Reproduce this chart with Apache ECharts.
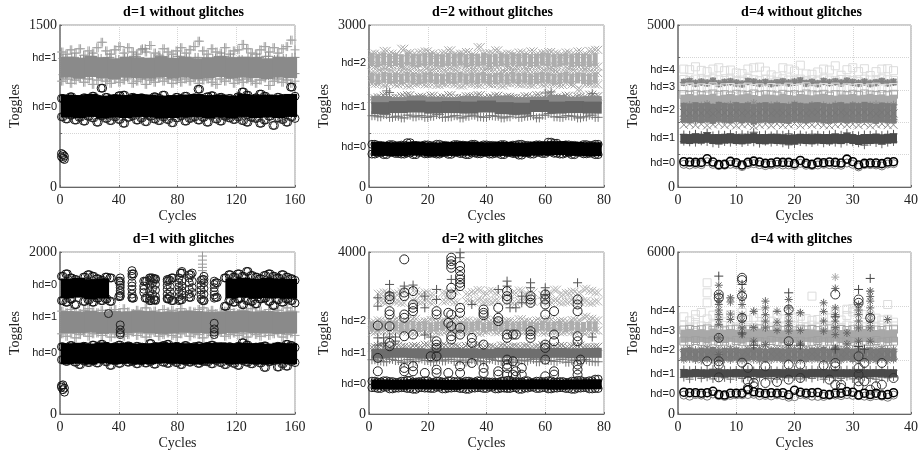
<!DOCTYPE html>
<html><head><meta charset="utf-8">
<script src="https://cdn.jsdelivr.net/npm/echarts@6/dist/echarts.min.js"></script>
<style>html,body{margin:0;background:#fff}#c{width:921px;height:456px}</style></head>
<body><div id="c"></div><script>
const titles=['d=1 without glitches','d=2 without glitches','d=4 without glitches','d=1 with glitches','d=2 with glitches','d=4 with glitches'];
const xMax=[160,80,40,160,80,40], xStep=[40,20,10,40,20,10];
const yMax=[1500,3000,5000,2000,4000,6000], yStep=[500,1000,1000,1000,2000,2000];
const yTicks=[[0,740,1195,1500],[0,740,1480,2296,3000],[0,740,1512,2376,3086,3610,5000],[0,755,1200,1596,2000],[0,742,1509,2300,4000],[0,753,1495,2386,3066,3808,6000]];
const yTexts=[['0','hd=0','hd=1','1500'],['0','hd=0','hd=1','hd=2','3000'],['0','hd=0','hd=1','hd=2','hd=3','hd=4','5000'],['0','hd=0','hd=1','hd=0','2000'],['0','hd=0','hd=1','hd=2','4000'],['0','hd=0','hd=1','hd=2','hd=3','hd=4','6000']];

// d=1 without glitches: every third cycle
const a0hi=[820,800,835,810,790,825,805,840,815,915,830,795,820,845,850,810,830,800,825,815,795,835,820,850,805,790,830,815,840,805,825,905,795,835,845,810,830,800,820,790,835,880,850,805,825,860,840,810,795,830,820,805,925,840];
const a0lo=[650,630,665,620,645,610,655,640,600,660,635,615,650,625,590,645,660,620,640,605,655,630,615,650,625,595,640,660,610,635,650,620,645,600,665,630,610,655,640,625,650,615,600,645,635,590,620,655,570,640,625,600,650,635];
const a0core=[750,745,755,740,750,745,755,750,740,745,750,755,745,750,740,755,745,750,745,755];
const a1hi=[1250,1230,1270,1240,1280,1220,1260,1240,1290,1340,1260,1230,1270,1300,1240,1290,1250,1230,1270,1250,1310,1240,1220,1280,1250,1230,1260,1290,1240,1270,1300,1350,1260,1230,1280,1250,1240,1290,1230,1260,1270,1320,1280,1240,1230,1270,1300,1250,1290,1240,1280,1300,1360,1270];
const a1lo=[980,1000,960,990,1010,970,1000,950,990,1010,980,960,1000,970,990,1010,960,980,1000,950,990,970,1010,980,1000,960,990,970,1000,980,1010,960,990,1000,970,950,1000,980,1010,960,990,970,1000,980,960,990,1010,940,980,1000,970,990,960,980];
const a1up=[1190,1200,1180,1210,1190,1200,1180,1190,1210,1280,1190,1200,1180,1210,1190,1200,1180,1190,1210,1200,1180,1190,1200,1210,1180,1190,1200];
const a1dn=[1040,1030,1050,1030,1040,1020,1050,1030,1040,1030,1020,1050,1040,1030,1050,1020,1040,1030,1050,1040,1030,1020,1050,1030,1040,1030,1050];
const a1core=[1110,1100,1115,1105,1095,1110,1105,1100,1115,1100,1110,1095,1105,1115,1100,1110,1105,1095,1110,1105];
const aLow=[[1,310],[1,280],[2,300],[2,265],[3,285],[3,255]];

// d=1 with glitches
const d0hi=[830,810,845,820,800,835,815,850,825,860,835,805,830,850,820,840,810,835,825,800,870,830,815,845,860,810,835,820,845,805,830,840,800,835,850,815,825,805,830,800,835,880,850,815,825,830,840,810,800,835,825,860,845,820];
const d0lo=[670,650,680,640,610,655,635,660,630,675,645,600,655,625,670,640,650,620,660,630,650,615,670,640,625,660,635,610,655,640,670,625,650,645,620,660,635,610,650,625,600,660,640,620,655,630,575,645,660,580,620,590,650,635];
const d0core=[745,750,740,755,745,750,740,745,755,750,745,740,750,755,745,750,745,740,750,745];
const d1hi=[1270,1250,1290,1260,1240,1280,1300,1260,1250,1280,1240,1270,1290,1250,1300,1260,1240,1280,1260,1310,1250,1270,1240,1290,1260,1280,1250,1300,1240,1270,1260,1290,1310,1250,1280,1240,1260,1270,1290,1250,1240,1280,1260,1300,1250,1270,1240,1290,1260,1280,1250,1310,1270,1260];
const d1lo=[990,960,1000,940,980,1010,960,990,1000,970,1010,950,990,1000,960,980,1010,970,1000,950,990,1010,960,980,1000,970,950,990,1010,960,990,980,940,1000,970,990,1010,960,980,1000,970,990,950,1010,980,960,1000,970,990,1010,950,980,1000,970];
const d1core=[1135,1130,1140,1125,1135,1130,1140,1135,1125,1130,1140,1135,1130,1125,1135,1140,1130,1135,1125,1130];
const d2hi=[1700,1730,1680,1660,null,1690,1720,1700,1670,1650,1690,1680,null,1640,null,null,1730,null,null,1640,1680,1670,null,null,1660,1680,null,1740,null,1720,null,null,1660,null,null,1620,null,1680,1720,1690,1730,1700,1760,1710,1690,1670,1710,1730,1700,1680,1720,1690,1670,1650];
const d2lo=[1400,1380,1420,1350,null,1390,1410,1380,1430,1400,1420,1390,null,1450,null,null,1430,null,null,1430,1400,1410,null,null,1420,1400,null,1410,null,1440,null,null,1400,null,null,1440,null,1330,1400,1380,1420,1350,1400,1390,1360,1420,1430,1390,1340,1410,1380,1420,1400,1370];
const d2core=[1550,1560,1540,1550,null,null,null,null,null,null,null,null,null,null,1550,1560,1545,1555,1550,1545];
const dSparse=[[41,[1680,1620,1590,1560,1520,1490,1460,1100,1040,1000,980]],[49,[1770,1700,1620,1580,1540,1480,1440]],[57,[1640,1580,1540,1500]],[61,[1650,1590,1520,1460,1420]],[63,[1680,1620,1550,1480]],[65,[1660,1600,1530,1450,1400]],[73,[1640,1590,1540,1480,1430]],[75,[1650,1570,1510,1450]],[81,[1680,1620,1570,1510,1450,1400]],[83,[1760,1640,1580,1520,1470]],[88,[1680,1620,1540,1480]],[90,[1740,1640,1560,1500]],[96,[1650,1590,1530,1470,1420]],[98,[1700,1620,1550,1480,1400]],[105,[1640,1600,1560,1510,1470,1430,1120,1050,1010,980]],[33,[1240]]];
const dLow=[[1,350],[1,330],[2,360],[2,300],[3,320],[3,270]];
const dPlus=[[97,1950],[97,1900],[97,1850],[97,1810],[97,1770]];

// d=2 without glitches: every second cycle
const b0hi=[790,770,760,785,765,775,820,770,760,780,765,790,770,760,785,775,765,790,760,780,770,765,785,760,775,790,770,760,780,770,830,810,765,780,770,760,785,770,790];
const b0lo=[610,630,600,640,620,610,630,600,640,615,625,610,635,605,640,620,600,630,615,640,610,625,600,635,620,590,630,610,640,620,650,625,610,630,600,640,615,625,600];
const b0core=[705,700,710,695,705,710,700,705,695,710,720,705,700];
const b1hi=[1640,1660,1690,1640,1650,1680,1700,1640,1670,1650,1690,1640,1660,1700,1650,1640,1680,1670,1700,1640,1660,1690,1640,1670,1650,1640,1680,1650,1700,1640,1730,1660,1650,1690,1640,1670,1650,1710,1680];
const b1lo=[1320,1300,1340,1290,1310,1280,1330,1300,1320,1290,1310,1340,1290,1300,1320,1280,1310,1330,1300,1290,1320,1310,1280,1300,1340,1290,1310,1320,1280,1330,1360,1300,1290,1320,1310,1280,1300,1330,1290];
const b1core=[1460,1480,1490,1470,1480,1470,1490,1460,1450,1500,1470,1480,1470];
const b1up=[1610,1590,1620,1600,1590,1610,1600,1620,1590,1600,1630,1600,1610];
const b1plus=[[6,1780],[7,1750],[60,1740],[62,1760],[76,1730]];
const b2aHi=[2470,2450,2520,2470,2440,2560,2480,2450,2490,2510,2470,2440,2480,2530,2450,2470,2500,2440,2590,2460,2480,2530,2450,2470,2440,2490,2460,2510,2450,2480,2500,2470,2440,2490,2460,2510,2450,2520,2540];
const b2aMid=[2360,2340,2370,2350,2360,2340,2370,2350,2340,2360,2370,2350,2340,2360,2350,2370,2340,2360,2350,2370,2340,2350,2360,2340,2370,2350,2360,2340,2350,2370,2360,2340,2350,2370,2340,2360,2350,2340,2360];
const b2aLo=[2240,2260,2220,2250,2270,2230,2250,2240,2270,2220,2250,2240,2260,2230,2250,2270,2240,2220,2260,2240,2230,2250,2270,2220,2240,2260,2230,2250,2240,2260,2220,2250,2270,2230,2240,2250,2220,2260,2230];
const b2bHi=[2120,2140,2110,2130,2100,2130,2140,2110,2120,2100,2140,2120,2130,2110,2140,2100,2120,2130,2110,2140,2120,2100,2130,2110,2140,2120,2130,2100,2110,2140,2120,2130,2100,2120,2140,2110,2130,2120,2110];
const b2bMid=[2020,2000,2030,2010,2020,2000,2030,2010,2000,2020,2030,2010,2000,2020,2010,2030,2000,2020,2010,2030,2000,2010,2020,2000,2030,2010,2020,2000,2010,2030,2020,2000,2010,2030,2000,2020,2010,2000,2020];
const b2bLo=[1910,1920,1890,1930,1900,1920,1880,1910,1930,1900,1920,1890,1910,1930,1900,1880,1920,1910,1890,1930,1900,1910,1880,1920,1930,1900,1910,1890,1930,1900,1920,1910,1890,1930,1900,1800,1920,1910,1900];

// d=2 with glitches
const e0hi=[810,790,820,800,780,810,830,790,800,820,780,810,790,820,800,780,810,790,820,800,790,780,810,830,800,790,820,780,810,800,820,790,800,780,810,830,800,820,860];
const e0lo=[650,630,660,620,640,650,630,610,650,640,630,660,620,640,650,630,610,640,650,630,660,620,640,630,650,610,640,660,630,650,620,640,650,630,610,640,650,620,630];
const e0core=[730,725,735,730,720,735,730,725,730,735,725,730,735];
const e1hi=[1650,1680,1640,1630,1690,1660,1640,1680,1650,1710,1630,1660,1690,1640,1670,1630,1680,1650,1700,1640,1660,1630,1690,1650,1670,1640,1680,1630,1660,1700,1650,1640,1680,1630,1670,1690,1650,1640,1660];
const e1lo=[1340,1310,1290,1350,1320,1280,1340,1300,1360,1320,1290,1340,1310,1350,1300,1330,1280,1340,1310,1290,1350,1320,1300,1340,1280,1330,1310,1350,1290,1340,1320,1300,1350,1280,1330,1310,1340,1300,1290];
const e1core=[1490,1510,1500,1490,1510,1500,1490,1510,1500,1490,1510,1500,1510];
const e2aHi=[null,2970,3000,2930,2980,3020,null,3040,2960,3000,2940,null,2990,2950,3030,null,2960,3010,3060,2970,3040,2980,null,2950,2990,3050,2960,3000,null,2940,2980,3070,2950,2990,3020,2970,3090,3040,3000];
const e2aLo=[null,2790,2760,2810,2770,2740,null,2800,2760,2790,2750,null,2780,2810,2760,null,2790,2750,2810,2770,2760,2800,null,2780,2740,2790,2810,2770,null,2800,2760,2790,2750,2770,2810,2760,2790,2740,2780];
const e2bHi=[2260,2310,2270,2290,2330,2260,2300,2350,2270,2290,2320,2260,2300,2280,2340,2270,2310,2260,2290,2330,2280,2310,2260,2300,2270,2340,2290,2260,2310,2280,2330,2270,2300,2260,2320,2290,2400,2350,2310];
const e2bMid=[2160,2140,2180,2150,2170,2140,2160,2180,2150,2170,2140,2160,2180,2150,2140,2170,2160,2150,2180,2140,2160,2170,2150,2180,2140,2160,2170,2150,2140,2180,2160,2150,2170,2140,2180,2160,2150,2170,2160];
const e2bLo=[2020,2060,2040,2010,2050,2070,2030,2000,2050,2030,2060,2020,2040,2070,2010,2050,2030,2060,2000,2040,2070,2020,2050,2030,2010,2060,2040,2030,2070,2010,2050,2040,2020,2060,2030,2050,2010,2040,2060];
const eCirc=[[3,[2185,1385,1055]],[7,[2910,2828,2539,2457,2168,1756,1673]],[12,[3818,3000,2910,2457,2375,1920,1137,1055]],[15,[3034,2704,2622,2539,1962,1179,1055]],[19,[1013]],[21,[1426]],[23,[2539,2457,1797,1714,1632,1426,1096,1013]],[27,[2498,2251,1013]],[28,[3860,3776,3694,3611,3117,2951,2457,2168,1920,1838]],[31,[3652,3529,3405,3323,3240,3158,2622,2498,2130,1960,1178,1013]],[35,[1880,1756,1261]],[39,[2580,2498,2440,1714,1137,1013]],[44,[2622,2374,2292,1055,972]],[47,[3034,2910,2828,1962,1880,1343,1220,1137,972]],[49,[1962,1302,972]],[50,[1962,1055,931]],[52,[1137,972]],[55,[2910,2828,2745,2045,1962,1880]],[60,[2951,2828,2704,2457,1714,1632,1343,931]],[63,[2539,1962,1797,1055,972]],[71,[2828,2704,2539,1920,1797,1220,1096,972]],[72,[1343]]];
const ePlus=[[3,[2869,2663,1880,1700]],[5,[1880,1750]],[7,[3199,2993,1900]],[9,[1800,1900]],[12,[3158]],[15,[3183]],[19,[2910,2622,1950]],[21,[1900]],[23,[3075,2828]],[28,[3323]],[31,[3982,3859]],[35,[2704]],[44,[3075]],[47,[3281,3158]],[48,[2622]],[50,[2622]],[52,[2910,2745]],[55,[3240,3117]],[60,[3117,2951]],[71,[3240]],[76,[1900]]];

// d=4 without glitches: every cycle
const c4a=[3640,3620,3710,3600,3560,3640,3680,3590,3610,3520,3500,3640,3680,3700,3580,3460,3400,3680,3640,3580,3760,3490,3480,3550,3640,3610,3740,3450,3620,3680,3560,3650,3440,3560,3640,3650,3590];
const c4b=[3320,3290,3330,3300,3280,3340,3310,3290,3330,3270,3300,3350,3310,3280,3320,3300,3260,3340,3300,3280,3330,3290,3310,3270,3340,3300,3280,3320,3310,3290,3260,3330,3300,3280,3340,3310,3290];
const c3a=[3230,3260,3200,3240,3210,3270,3190,3230,3250,3210,3180,3260,3240,3200,3230,3190,3220,3250,3210,3240,3280,3200,3230,3190,3260,3220,3250,3210,3270,3230,3200,3240,3190,3220,3260,3210,3240];
const c3b=[3050,3080,3030,3060,3040,3090,3020,3060,3070,3030,3050,3080,3040,3060,3020,3070,3050,3030,3080,3040,3060,3090,3030,3050,3070,3040,3080,3020,3060,3050,3070,3030,3060,3080,3040,3050,3070];
const c3c=[2850,2830,2860,2820,2840,2870,2830,2850,2810,2860,2840,2820,2870,2830,2850,2840,2810,2860,2830,2850,2820,2870,2840,2830,2860,2810,2850,2840,2820,2860,2830,2870,2840,2820,2850,2830,2860];
const c3d=[2680,2700,2660,2690,2670,2710,2650,2680,2700,2660,2690,2720,2670,2640,2690,2680,2660,2710,2670,2650,2700,2680,2660,2690,2710,2670,2650,2690,2680,2700,2660,2680,2710,2670,2690,2650,2680];
const c2a=[2500,2530,2480,2510,2560,2470,2520,2490,2540,2510,2470,2530,2590,2500,2480,2520,2540,2470,2510,2550,2490,2460,2530,2500,2520,2480,2540,2510,2470,2530,2500,2480,2520,2550,2490,2510,2540];
const c2b=[2290,2270,2310,2280,2300,2260,2320,2290,2270,2310,2280,2300,2250,2290,2310,2270,2300,2280,2260,2320,2290,2270,2300,2310,2280,2260,2290,2310,2270,2300,2280,2320,2290,2260,2300,2280,2270];
const c2c=[2090,2110,2060,2100,2080,2050,2100,2070,2110,2080,2050,2100,2000,2090,2060,2110,2070,2090,2050,2100,2080,2060,2110,2090,2050,2080,2100,2060,2090,2070,2110,2050,2090,2070,2100,2060,2080];
const c2d=[1920,1950,1910,1940,1900,1930,1960,1910,1940,1900,1930,1950,1880,1920,1940,1900,1950,1910,1930,1960,1900,1940,1920,1950,1910,1900,1930,1950,1920,1940,1910,1960,1900,1930,1950,1910,1920];
const c1a=[1620,1610,1640,1600,1680,1590,1620,1610,1640,1600,1630,1610,1690,1600,1620,1590,1630,1610,1640,1600,1620,1590,1630,1610,1600,1620,1640,1610,1670,1600,1590,1620,1610,1630,1600,1620,1640];
const c1b=[1400,1380,1370,1410,1390,1350,1330,1390,1370,1400,1360,1390,1380,1340,1400,1370,1390,1350,1300,1320,1390,1380,1360,1400,1350,1390,1370,1340,1400,1380,1350,1290,1390,1360,1320,1370,1390];
const c1core=[1490,1480,1500,1490,1520,1480,1470,1490,1500,1480,1470,1490,1510,1480,1470,1490,1480,1470,1460,1470,1490,1480,1470,1490,1480,1470,1490,1480,1510,1480,1450,1470,1480,1490,1470,1490,1500];
const c0a=[780,770,760,760,870,770,690,700,790,750,680,760,800,770,730,740,770,760,760,720,820,730,700,760,750,770,760,740,860,780,680,730,740,740,720,770,780];
const c0b=[700,680,700,690,780,700,660,670,700,690,630,700,720,690,660,680,700,680,680,660,730,670,660,680,700,690,680,670,740,700,620,690,690,680,650,710,720];

// d=4 with glitches
const f4a=[3600,3450,3520,3760,3520,3660,3600,3410,3680,3440,3760,3490,3580,3720,3520,3440,3680,3520,3460,3560,3620,3530,3470,3500,3620,3560,3720,3480,3650,3780,3740,3690,3640,3550,3480,3510,3400];
const f4b=[3290,3220,3310,3260,3240,3300,3210,3280,3250,3220,3310,3270,3200,3290,3240,3220,3300,3260,3210,3280,3240,3220,3290,3250,3310,3230,3270,3210,3290,3250,3310,3230,3270,3220,3290,3240,3260];
const f3a=[3110,3130,3090,3120,3150,3100,3130,3080,3120,3140,3090,3120,3100,3150,3110,3090,3130,3100,3120,3080,3140,3110,3130,3090,3120,3150,3100,3130,3090,3120,3140,3100,3130,3110,3090,3120,3140];
const f3b=[2880,2910,2870,2900,2860,2920,2890,2870,2910,2880,2850,2900,2890,2920,2870,2880,2910,2860,2900,2880,2870,2910,2890,2860,2900,2880,2920,2870,2900,2860,2890,2910,2880,2870,2900,2860,2890];
const f3c=[2700,2680,2720,2690,2660,2710,2680,2700,2660,2720,2690,2670,2700,2680,2660,2720,2690,2670,2710,2680,2700,2660,2690,2720,2670,2700,2680,2660,2710,2690,2670,2700,2680,2720,2660,2690,2700];
const f2a=[2390,2420,2370,2400,2440,2360,2410,2380,2420,2390,2360,2410,2380,2430,2390,2370,2410,2400,2360,2420,2380,2400,2370,2430,2390,2360,2410,2380,2400,2370,2420,2390,2360,2400,2430,2370,2400];
const f2b=[2200,2230,2180,2210,2190,2240,2170,2210,2190,2220,2180,2210,2240,2190,2170,2220,2200,2180,2230,2190,2210,2170,2220,2190,2240,2180,2210,2190,2220,2170,2210,2190,2230,2180,2210,2200,2190];
const f2c=[2010,2040,2000,1980,2030,2010,1960,2030,2000,2040,1990,2020,2010,1970,2030,2000,2040,1990,2020,2000,1980,2030,2010,2040,1960,2000,2030,1990,2040,2010,1970,2030,2000,1990,2040,1980,2020];
const f1a=[1650,1620,1640,1610,1630,1660,1620,1640,1610,1630,1620,1650,1610,1640,1620,1630,1610,1650,1620,1640,1610,1630,1650,1620,1640,1610,1630,1620,1640,1610,1650,1620,1640,1630,1610,1640,1620];
const f1b=[1350,1290,1380,1320,1360,1300,1380,1340,1290,1370,1320,1360,1300,1350,1380,1320,1290,1360,1340,1380,1300,1350,1320,1370,1290,1360,1340,1320,1380,1300,1350,1370,1320,1290,1360,1340,1370];
const f1core=[1510,1500,1520,1510,1500,1520,1510,1500,1510,1520,1510,1500,1520,1510,1500,1510,1520,1500,1510,1520,1510,1500,1510,1520,1500,1510,1520,1510,1500,1510,1520,1510,1500,1510,1520,1500,1510];
const f0a=[810,790,790,770,790,840,720,700,770,770,770,900,820,790,760,790,770,790,710,880,810,770,790,800,730,720,770,770,830,810,700,770,720,770,700,720,790];
const f0b=[700,660,720,700,660,740,680,650,690,710,710,720,730,680,690,670,710,680,620,640,720,700,660,650,650,690,700,680,720,690,680,660,640,680,660,620,700];
const fCirc=[[5,[1953]],[7,[4427,4303,2819,1953,1829,1359]],[11,[5045,4959,4365,3561,1900]],[12,[1706,1220,963]],[13,[1149,1025]],[15,[1767,1149]],[17,[1186]],[19,[3870,2695,1829,1273]],[21,[1829,1334]],[25,[1805]],[26,[1273]],[27,[4427,1891,1767,1087]],[28,[1087,963]],[31,[4241,4118,2138,1706,1458,1211,1025]],[32,[1891,1211]],[33,[3561,901]],[34,[1025]],[35,[1891,1087]],[37,[1334]]];
const fStar=[[7,[4770,4427,4200,4056,3850,3680,3500,3310,2819,2200]],[9,[4300,4150,3700,3500]],[11,[4550,4300,4056,3680,3450,3190,2940]],[13,[3800,3200,2700]],[15,[4180,3930,3680,3440,3190,2570]],[17,[3800,3400,3100]],[19,[4240,3930,3680,3440,3270,3070,2570]],[21,[3750,3100,2600]],[25,[4118,3800,3440,3070]],[27,[4650,3930,3680,3440,3200,2940,2450]],[29,[3000,2600]],[31,[4056,3850,3680,3440,3190,2695]],[33,[4550,4350,4180,3930,3680,3440,3190,2695]],[36,[3500]]];
const fPlus=[[7,[5107]],[11,[4800,3000]],[19,[4489]],[27,[3600,2400]],[31,[4613,2500]],[33,[5021]],[32,[2400]],[13,[2550]],[21,[2550]]];
const fGray=[[27,[5070]],[9,[4303]],[13,[3808]],[33,[4550]],[21,[3750]]];
const fSq=[[5,[4860,4489,4118]],[3,[3680]],[23,[4365]],[36,[4056]],[29,[3880]],[30,[3900]]];

const SYM={o:'circle',s:'rect',f:'rect',p:'path://M5 0V10M0 5H10',x:'path://M0 0L10 10M0 10L10 0',a:'path://M5 0V10M0 5H10M1.5 1.5L8.5 8.5M1.5 8.5L8.5 1.5'};
const col=(ys,start,step)=>ys.map((y,i)=>y==null?null:[start+i*step,y]).filter(Boolean);
const pairs=l=>l.flatMap(([c,vs])=>vs.map(v=>[c,v]));
const S=(g,kind,color,data,size,bw)=>{
  const filled=kind==='f';
  return {type:'scatter',xAxisIndex:g,yAxisIndex:g,data,symbol:SYM[kind],symbolSize:size||8,silent:true,animation:false,
    itemStyle:filled?{color,opacity:1}:{color:'transparent',borderColor:color,borderWidth:bw||1,opacity:1}};
};
// a row drawn at two neighbouring column offsets, since the reference overplots every cycle
const R=(g,kind,color,ys,step,size,bw)=>[S(g,kind,color,col(ys,1,step),size,bw),S(g,kind,color,col(ys,2,step),size,bw)];
const series=[
 // panel 0
 ...R(0,'p','#a4a4a4',a1hi,3,9),...R(0,'p','#a4a4a4',a1lo,3,9),S(0,'p','#909090',col(a1up,2,6),9),S(0,'p','#909090',col(a1up,4,6),9),S(0,'p','#909090',col(a1dn,2,6),9),S(0,'p','#909090',col(a1dn,4,6),9),
 S(0,'f','#8a8a8a',col(a1core,5,8),[13,21]),
 ...R(0,'o','#111',a0hi,3),...R(0,'o','#222',a0lo,3),S(0,'f','#000',col(a0core,5,8),[13,23]),S(0,'o','#111',aLow),
 // panel 1
 ...R(1,'o','#222',b0hi,2),...R(1,'o','#222',b0lo,2),S(1,'f','#000',col(b0core,4,6),[19,14]),
 ...R(1,'p','#777',b1lo,2,9),...R(1,'x','#888',b1hi,2,8),S(1,'p','#777',b1plus,9),S(1,'f','#8a8a8a',col(b1up,4,6),[19,8]),S(1,'f','#666',col(b1core,4,6),[19,12]),
 ...R(1,'x','#aaa',b2aHi,2,8),...R(1,'x','#aaa',b2aLo,2,8),S(1,'f','#adadad',col(b2aMid,1,2),[5,13]),
 ...R(1,'x','#aaa',b2bHi,2,8),...R(1,'x','#aaa',b2bLo,2,8),S(1,'f','#adadad',col(b2bMid,1,2),[5,11]),
 // panel 2
 S(2,'s','#dcdcdc',col(c4a,1,1),8),S(2,'s','#dcdcdc',col(c4b,1,1),8),
 S(2,'f','#8e8e8e',col(c3a,1,1),[6,7]),S(2,'a','#808080',col(c3a,1,1),8),S(2,'s','#ddd',col(c3b,1,1),8),S(2,'s','#a6a6a6',col(c3c,1,1),8),S(2,'f','#a8a8a8',col(c3d,1,1),[7,11]),
 S(2,'a','#8c8c8c',col(c2a,1,1),8),S(2,'a','#7a7a7a',col(c2c,1,1),8),S(2,'x','#888',col(c2d,1,1),8),S(2,'f','#7c7c7c',col(c2b,1,1),[6,20]),S(2,'x','#777',col(c2b,1,1),8),
 S(2,'p','#555',col(c1a,1,1),8),S(2,'p','#666',col(c1b,1,1),8),S(2,'f','#4a4a4a',col(c1core,1,1),[7,10]),
 S(2,'o','#777',col(c0b,1,1),8),S(2,'o','#000',col(c0a,1,1),8,1.6),
 // panel 3
 ...R(3,'p','#a4a4a4',d1hi,3,9),...R(3,'p','#a4a4a4',d1lo,3,9),S(3,'f','#8a8a8a',col(d1core,5,8),[13,22]),S(3,'p','#999',dPlus,9),
 ...R(3,'o','#111',d0hi,3),...R(3,'o','#222',d0lo,3),S(3,'f','#000',col(d0core,5,8),[13,21]),S(3,'o','#111',dLow),
 ...R(3,'o','#111',d2hi,3),...R(3,'o','#111',d2lo,3),S(3,'f','#000',col(d2core,5,8),[13,20]),S(3,'o','#222',pairs(dSparse)),
 // panel 4
 ...R(4,'x','#b4b4b4',e2aHi,2,8),...R(4,'x','#b4b4b4',e2aLo,2,8),
 ...R(4,'x','#aaa',e2bHi,2,8),...R(4,'x','#aaa',e2bLo,2,8),S(4,'f','#adadad',col(e2bMid,1,2),[5,10]),
 ...R(4,'p','#777',e1lo,2,9),...R(4,'x','#888',e1hi,2,8),S(4,'f','#6e6e6e',col(e1core,4,6),[19,10]),
 S(4,'p','#555',pairs(ePlus),9),S(4,'o','#222',pairs(eCirc),9),
 ...R(4,'o','#222',e0hi,2),...R(4,'o','#222',e0lo,2),S(4,'f','#000',col(e0core,4,6),[19,10]),
 // panel 5
 S(5,'s','#dcdcdc',col(f4a,1,1),8),S(5,'s','#dcdcdc',col(f4b,1,1),8),S(5,'s','#dcdcdc',pairs(fSq),8),
 S(5,'s','#a6a6a6',col(f3a,1,1),8),S(5,'f','#a8a8a8',col(f3b,1,1),[7,13]),S(5,'s','#a0a0a0',col(f3c,1,1),8),
 S(5,'a','#808080',col(f2a,1,1),8),S(5,'a','#7a7a7a',col(f2c,1,1),8),S(5,'f','#7a7a7a',col(f2b,1,1),[6,13]),S(5,'x','#777',col(f2b,1,1),8),
 S(5,'p','#666',col(f1a,1,1),8),S(5,'p','#666',col(f1b,1,1),8),S(5,'f','#4a4a4a',col(f1core,1,1),[7,8]),
 S(5,'a','#aaa',pairs(fGray),8),S(5,'a','#666',pairs(fStar),8),S(5,'p','#444',pairs(fPlus),9),S(5,'o','#333',pairs(fCirc),9),
 S(5,'o','#777',col(f0b,1,1),8),S(5,'o','#000',col(f0a,1,1),8,1.5)
];
const lefts=[60,369,678], width=235, tops=[25,252], height=162;
const grids=[],xAxes=[],yAxes=[],tt=[];
titles.forEach((t,i)=>{
  const L=lefts[i%3],T=tops[i<3?0:1];
  grids.push({left:L,top:T,width,height,show:true,borderColor:'#9a9a9a',borderWidth:1,backgroundColor:'#fff'});
  tt.push({text:t,left:L+width/2+1,top:T-25,textAlign:'center',textStyle:{fontFamily:'Liberation Serif',fontSize:14,fontWeight:'bold',color:'#000'}});
  xAxes.push({type:'value',gridIndex:i,min:0,max:xMax[i],interval:xStep[i],name:'Cycles',nameLocation:'middle',nameGap:22,
    nameTextStyle:{fontFamily:'Liberation Serif',fontSize:14,color:'#222'},
    axisLine:{onZero:false,lineStyle:{color:'#666'}},axisTick:{inside:true,length:2,lineStyle:{color:'#666'}},
    axisLabel:{fontFamily:'Liberation Serif',fontSize:14,color:'#222',margin:6,hideOverlap:false},
    splitLine:{show:true,lineStyle:{type:'dotted',color:'#d5d5d5',width:1}}});
  yAxes.push({type:'value',gridIndex:i,min:0,max:yMax[i],interval:yStep[i],name:'Toggles',nameLocation:'middle',nameGap:38,
    nameTextStyle:{fontFamily:'Liberation Serif',fontSize:14,color:'#222'},
    axisLine:{onZero:false,lineStyle:{color:'#777',width:1.5}},axisTick:{inside:true,length:2,lineStyle:{color:'#666'}},
    axisLabel:{customValues:yTicks[i],margin:3,hideOverlap:false,
      formatter:v=>{const s=yTexts[i][yTicks[i].indexOf(v)]||'';return s.startsWith('hd')?'{h|'+s+'}':'{n|'+s+'}';},
      rich:{h:{fontFamily:'Liberation Sans',fontSize:11,color:'#222'},n:{fontFamily:'Liberation Serif',fontSize:14,color:'#222'}}},
    splitLine:{show:true,lineStyle:{type:'dotted',color:'#d5d5d5',width:1}}});
});
echarts.init(document.getElementById('c'),null,{renderer:'canvas'}).setOption({animation:false,backgroundColor:'#fff',title:tt,grid:grids,xAxis:xAxes,yAxis:yAxes,series});
</script></body></html>
